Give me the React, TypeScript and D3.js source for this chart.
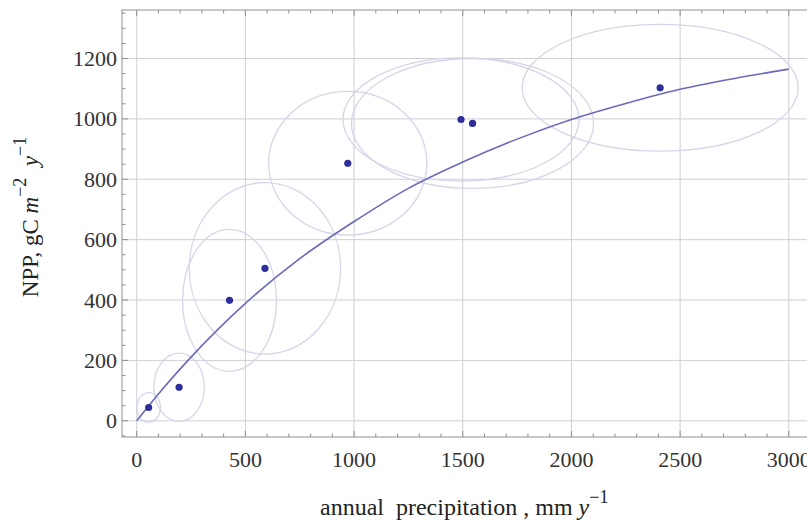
import React from "react";
import * as d3 from "d3";

// Observed sites
const precipitation = [55, 195, 427, 590, 971, 1492, 1545, 2408];
const npp = [44, 111, 399, 505, 853, 998, 985, 1103];
// Uncertainty ellipse semi-axes (data units)
const ellipseRx = [54, 116, 216, 348, 364, 543, 557, 635];
const ellipseRy = [49, 113, 235, 284, 238, 204, 215, 210];

// Fitted curve
const curveX = [0, 100, 250, 500, 750, 1000, 1250, 1500, 1750, 2000, 2250, 2500, 2750, 3000];
const curveY = [0, 89, 211, 389, 537, 660, 770, 857, 933, 998, 1051, 1098, 1134, 1165];

const xTicks = [0, 500, 1000, 1500, 2000, 2500, 3000];
const yTicks = [0, 200, 400, 600, 800, 1000, 1200];

const W = 807;
const H = 526;
const left = 122;
const right = 816;
const top = 10;
const bottom = 437;

export default function App() {
  const x = d3.scaleLinear().domain([-67.6, 3125]).range([left, right]);
  const y = d3.scaleLinear().domain([-53.7, 1360.7]).range([bottom, top]);

  const minorX = d3.range(-0, 3101, 100);
  const minorY = d3.range(-50, 1351, 50);

  const line = d3
    .line<number>()
    .x((_, i) => x(curveX[i]))
    .y((_, i) => y(curveY[i]))
    .curve(d3.curveMonotoneX);

  const frame = "#8f8f8f";
  const grid = "#cfcfd6";
  const font = "'Liberation Serif', 'Times New Roman', serif";

  return (
    <svg
      width={W}
      height={H}
      style={{ position: "absolute", left: 0, top: 0, background: "#fff" }}
      fontFamily={font}
    >
      <defs>
        <clipPath id="plot">
          <rect x={left} y={top} width={right - left} height={bottom - top} />
        </clipPath>
      </defs>
      {/* grid */}
      {xTicks.map((t) => (
        <line key={"gx" + t} x1={x(t)} x2={x(t)} y1={top} y2={bottom} stroke={grid} strokeWidth={1} />
      ))}
      {yTicks.map((t) => (
        <line key={"gy" + t} x1={left} x2={right} y1={y(t)} y2={y(t)} stroke={grid} strokeWidth={1} />
      ))}
      {/* frame */}
      <rect x={left} y={top} width={right - left} height={bottom - top} fill="none" stroke={frame} strokeWidth={1} />
      {/* ticks */}
      {minorX.map((t) => {
        const major = t % 500 === 0;
        const len = major ? 6 : 3.5;
        return (
          <g key={"tx" + t}>
            <line x1={x(t)} x2={x(t)} y1={bottom} y2={bottom - len} stroke={frame} />
            <line x1={x(t)} x2={x(t)} y1={top} y2={top + len} stroke={frame} />
          </g>
        );
      })}
      {minorY.map((t) => {
        const major = t % 200 === 0;
        const len = major ? 6 : 3.5;
        return <line key={"ty" + t} x1={left} x2={left + len} y1={y(t)} y2={y(t)} stroke={frame} />;
      })}
      {/* ellipses, curve, points */}
      <g clipPath="url(#plot)">
        {precipitation.map((p, i) => (
          <ellipse
            key={"e" + i}
            cx={x(p)}
            cy={y(npp[i])}
            rx={x(ellipseRx[i]) - x(0)}
            ry={y(0) - y(ellipseRy[i])}
            fill="none"
            stroke="#d5d5e8"
            strokeWidth={1.3}
          />
        ))}
        <path d={line(curveX) || ""} fill="none" stroke="#6a6abd" strokeWidth={1.6} />
        {precipitation.map((p, i) => (
          <circle key={"p" + i} cx={x(p)} cy={y(npp[i])} r={3.6} fill="#2d2d9c" />
        ))}
      </g>
      {/* tick labels */}
      {xTicks.map((t) => (
        <text key={"lx" + t} x={x(t)} y={467} textAnchor="middle" fontSize={22} fill="#333">
          {t}
        </text>
      ))}
      {yTicks.map((t) => (
        <text key={"ly" + t} x={117} y={y(t) + 7.5} textAnchor="end" fontSize={22} fill="#333">
          {t}
        </text>
      ))}
      {/* axis labels */}
      <text x={320} y={515} fontSize={24} fill="#222" style={{ whiteSpace: "pre" }}>
        {"annual  precipitation , mm "}
        <tspan fontStyle="italic">y</tspan>
        <tspan fontSize={18} dy={-12}>−1</tspan>
      </text>
      <text
        transform="translate(38,217) rotate(-90)"
        textAnchor="middle"
        fontSize={23}
        fill="#222"
        style={{ whiteSpace: "pre" }}
      >
        {"NPP, gC "}
        <tspan fontStyle="italic">m</tspan>
        <tspan fontSize={18} dy={-12}>−2</tspan>
        <tspan dy={12}>{"  "}</tspan>
        <tspan fontStyle="italic">y</tspan>
        <tspan fontSize={18} dy={-12}>−1</tspan>
      </text>
    </svg>
  );
}
